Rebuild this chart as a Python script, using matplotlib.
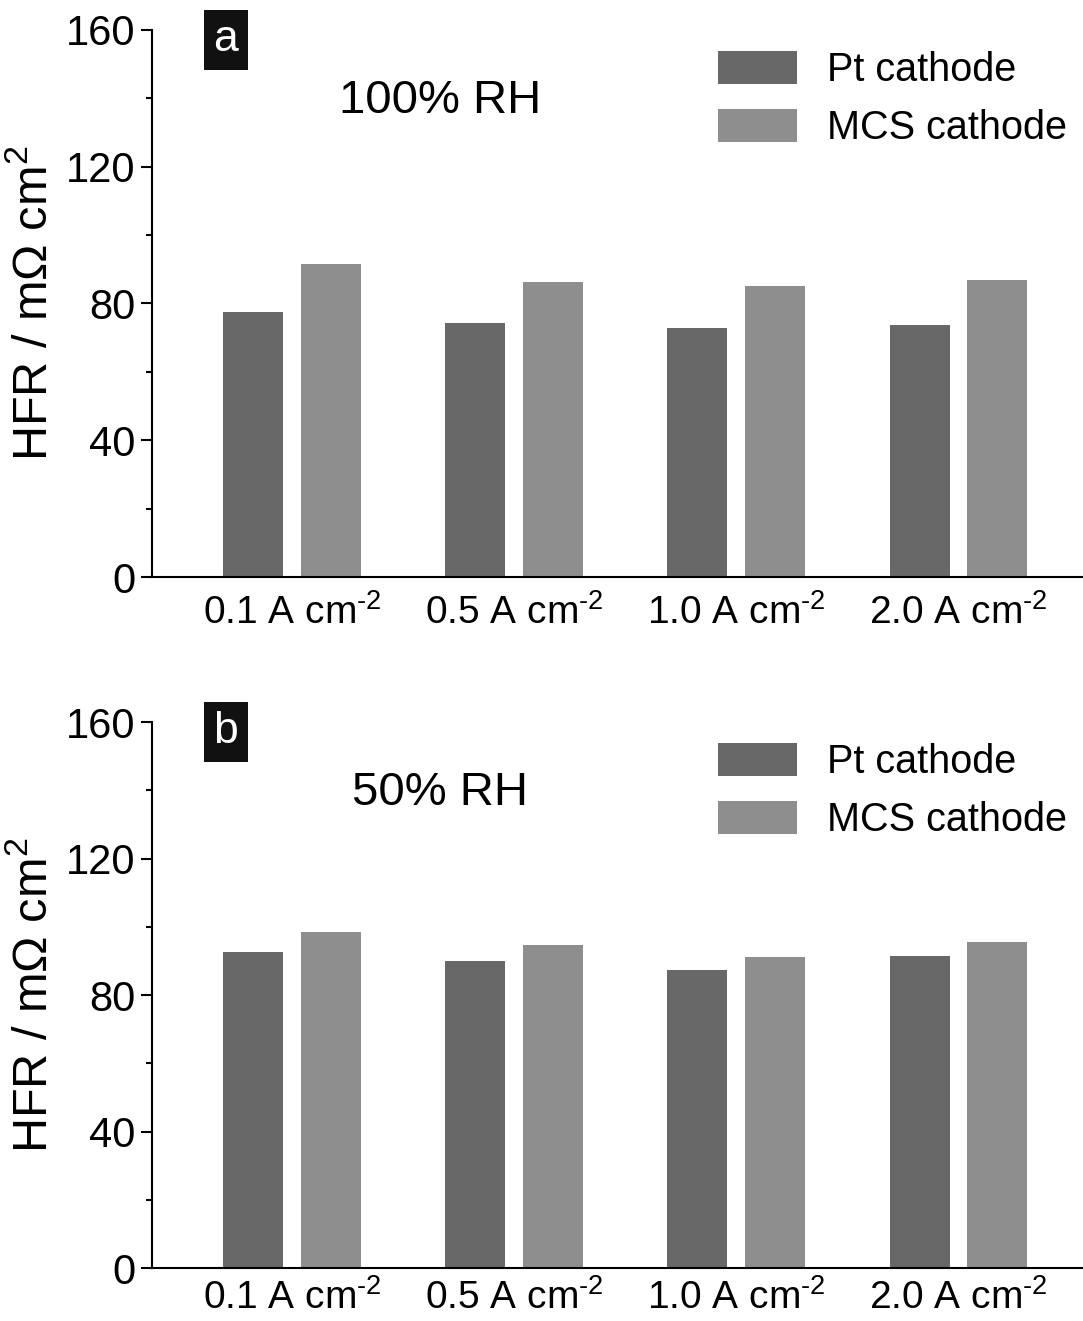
import numpy as np
import matplotlib.pyplot as plt
from matplotlib.ticker import MultipleLocator

plt.rcParams['font.family'] = ['Liberation Sans', 'DejaVu Sans']
plt.rcParams['mathtext.fontset'] = 'custom'
plt.rcParams['mathtext.rm'] = 'Liberation Sans'
plt.rcParams['mathtext.it'] = 'Liberation Sans:italic'
plt.rcParams['mathtext.default'] = 'regular'

# current densities on the x axis
densities = ['0.1', '0.5', '1.0', '2.0']
x_labels = [d + ' A cm$^{\\text{-}2}$' for d in densities]

# HFR values, mOhm cm2
pt_100rh = [77.5, 74.3, 72.8, 73.7]
mcs_100rh = [91.5, 86.3, 85.1, 86.9]
pt_50rh = [92.6, 90.0, 87.3, 91.4]
mcs_50rh = [98.5, 94.7, 91.1, 95.5]

panels = [
    ('a', '100% RH', pt_100rh, mcs_100rh, [0.1403, 0.5632, 0.8597, 0.4141], 12),
    ('b', '50% RH', pt_50rh, mcs_50rh, [0.1403, 0.0401, 0.8597, 0.4133], 8),
]

pt_color = '#686868'
mcs_color = '#8e8e8e'
fs = 28

fig = plt.figure(figsize=(10.83, 13.21), dpi=100)
x = np.arange(len(densities))
w = 0.27
off = 0.35

for letter, title, pt, mcs, rect, xpad in panels:
    ax = fig.add_axes(rect)
    ax.bar(x - off / 2, pt, width=w, color=pt_color, label='Pt cathode')
    ax.bar(x + off / 2, mcs, width=w, color=mcs_color, label='MCS cathode')

    ax.set_xlim(-0.63, 3.56)
    ax.set_ylim(0, 160)
    ax.yaxis.set_major_locator(MultipleLocator(40))
    ax.yaxis.set_minor_locator(MultipleLocator(20))
    ax.set_xticks(x)
    ax.set_xticklabels(x_labels, fontsize=fs)
    ax.tick_params(axis='x', length=0, pad=xpad)
    ax.tick_params(axis='y', which='major', length=8, width=1.5, labelsize=30, pad=4)
    ax.tick_params(axis='y', which='minor', length=4, width=1.5)

    for s in ['top', 'right']:
        ax.spines[s].set_visible(False)
    for s in ['left', 'bottom']:
        ax.spines[s].set_linewidth(1.5)

    ax.set_ylabel('HFR / m\u03a9 cm$^2$', fontsize=35, labelpad=6)

    ax.text(0.0795, 0.982, letter, transform=ax.transAxes, fontsize=32,
            color='white', ha='center', va='center',
            bbox=dict(boxstyle='square,pad=0.22', facecolor='#111111', edgecolor='none'))
    ax.text(0.309, 0.87, title, transform=ax.transAxes, fontsize=34,
            ha='center', va='center')

    ax.legend(loc='upper right', bbox_to_anchor=(1.0, 0.99), frameon=False,
              fontsize=28.5, handlelength=2.0, handleheight=0.9,
              handletextpad=0.75, labelspacing=0.5, borderaxespad=0)

fig.savefig('out.png', dpi=100)
